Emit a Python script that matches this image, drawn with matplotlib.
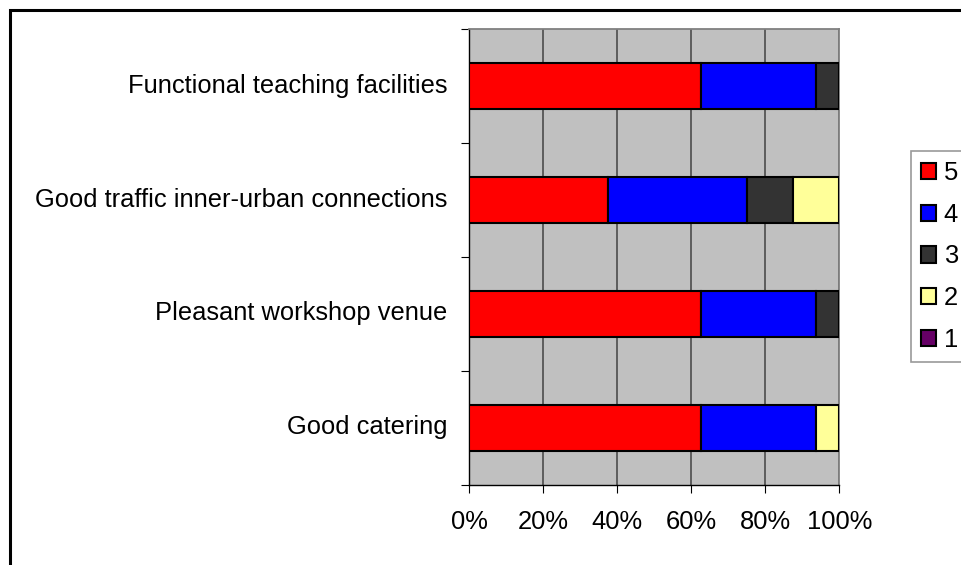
import numpy as np
import matplotlib
matplotlib.use("Agg")
import matplotlib.pyplot as plt
from matplotlib.patches import Rectangle, Patch
from matplotlib.transforms import ScaledTranslation

plt.rcParams['font.family'] = ['Liberation Sans', 'DejaVu Sans']

# categories listed bottom to top (Excel order)
categories = ['Good catering', 'Pleasant workshop venue',
              'Good traffic inner-urban connections', 'Functional teaching facilities']
ratings = ['5', '4', '3', '2', '1']
# number of answers per rating, one list per rating, same order as categories
score5 = [10, 10, 6, 10]
score4 = [5, 5, 6, 5]
score3 = [0, 1, 2, 1]
score2 = [1, 0, 2, 0]
score1 = [0, 0, 0, 0]
colors = ['#FF0000', '#0000FF', '#333333', '#FFFF99', '#660066']
x_ticks = [0, 20, 40, 60, 80, 100]

counts = np.array([score5, score4, score3, score2, score1], dtype=float)
shares = counts / counts.sum(axis=0) * 100

FS = 18.4
W, H = 961, 565
fig = plt.figure(figsize=(W / 100, H / 100), dpi=100)
ax = fig.add_axes([469.3 / W, 1 - 484.7 / H, 370 / W, 455.4 / H])
ax.set_facecolor('#C0C0C0')

ypos = np.arange(len(categories))
left = np.zeros(len(categories))
for share, col in zip(shares, colors):
    bars = ax.barh(ypos, share, left=left, height=0.4, color=col,
                   edgecolor='black', linewidth=1.5, zorder=3)
    for b, v in zip(bars, share):
        if v == 0:
            b.set_visible(False)
    left += share

ax.set_xlim(0, 100)
ax.set_ylim(-0.5, len(categories) - 0.5)
ax.set_xticks(x_ticks)
ax.set_xticklabels([f'{t}%' for t in x_ticks], fontsize=FS)
ax.xaxis.grid(True, color='#555555', linewidth=1.3, zorder=1)
ax.set_axisbelow(True)

ax.set_yticks(np.arange(len(categories) + 1) - 0.5)
ax.set_yticklabels([])
ax.set_yticks(ypos, minor=True)
ax.set_yticklabels(categories, minor=True, fontsize=FS)
ax.tick_params(axis='y', which='major', direction='out', length=6, width=0.8, color='black')
ax.tick_params(axis='y', which='minor', length=0, pad=16)
ax.tick_params(axis='x', direction='out', length=6, width=0.8, pad=12)

# nudge category labels up a little, like the original
shift = ScaledTranslation(0, 3 / 100, fig.dpi_scale_trans)
for lbl in ax.get_yticklabels(minor=True):
    lbl.set_transform(lbl.get_transform() + shift)

for s in ['top', 'right']:
    ax.spines[s].set_color('#808080')
    ax.spines[s].set_linewidth(1.3)
for s in ['left', 'bottom']:
    ax.spines[s].set_color('black')
    ax.spines[s].set_linewidth(1.0)

handles = [Patch(facecolor=c, edgecolor='black', linewidth=1.5) for c in colors]
leg = fig.legend(handles=handles, labels=ratings, loc='upper left',
                 bbox_to_anchor=(910.5 / W, 1 - 151 / H), fontsize=FS,
                 frameon=True, fancybox=False, edgecolor='#808080',
                 handlelength=0.6, handleheight=0.6, handletextpad=0.3,
                 labelspacing=0.69, borderpad=0.4, borderaxespad=0)
leg.get_frame().set_linewidth(1.2)

# outer chart border, right and bottom edges fall outside the picture
fig.patches.append(Rectangle((9.5 / W, -0.05), 1.2, 1 - 9.5 / H + 0.05,
                             transform=fig.transFigure, fill=False,
                             edgecolor='black', linewidth=2.2, zorder=0))

fig.savefig('out.png', dpi=100)
